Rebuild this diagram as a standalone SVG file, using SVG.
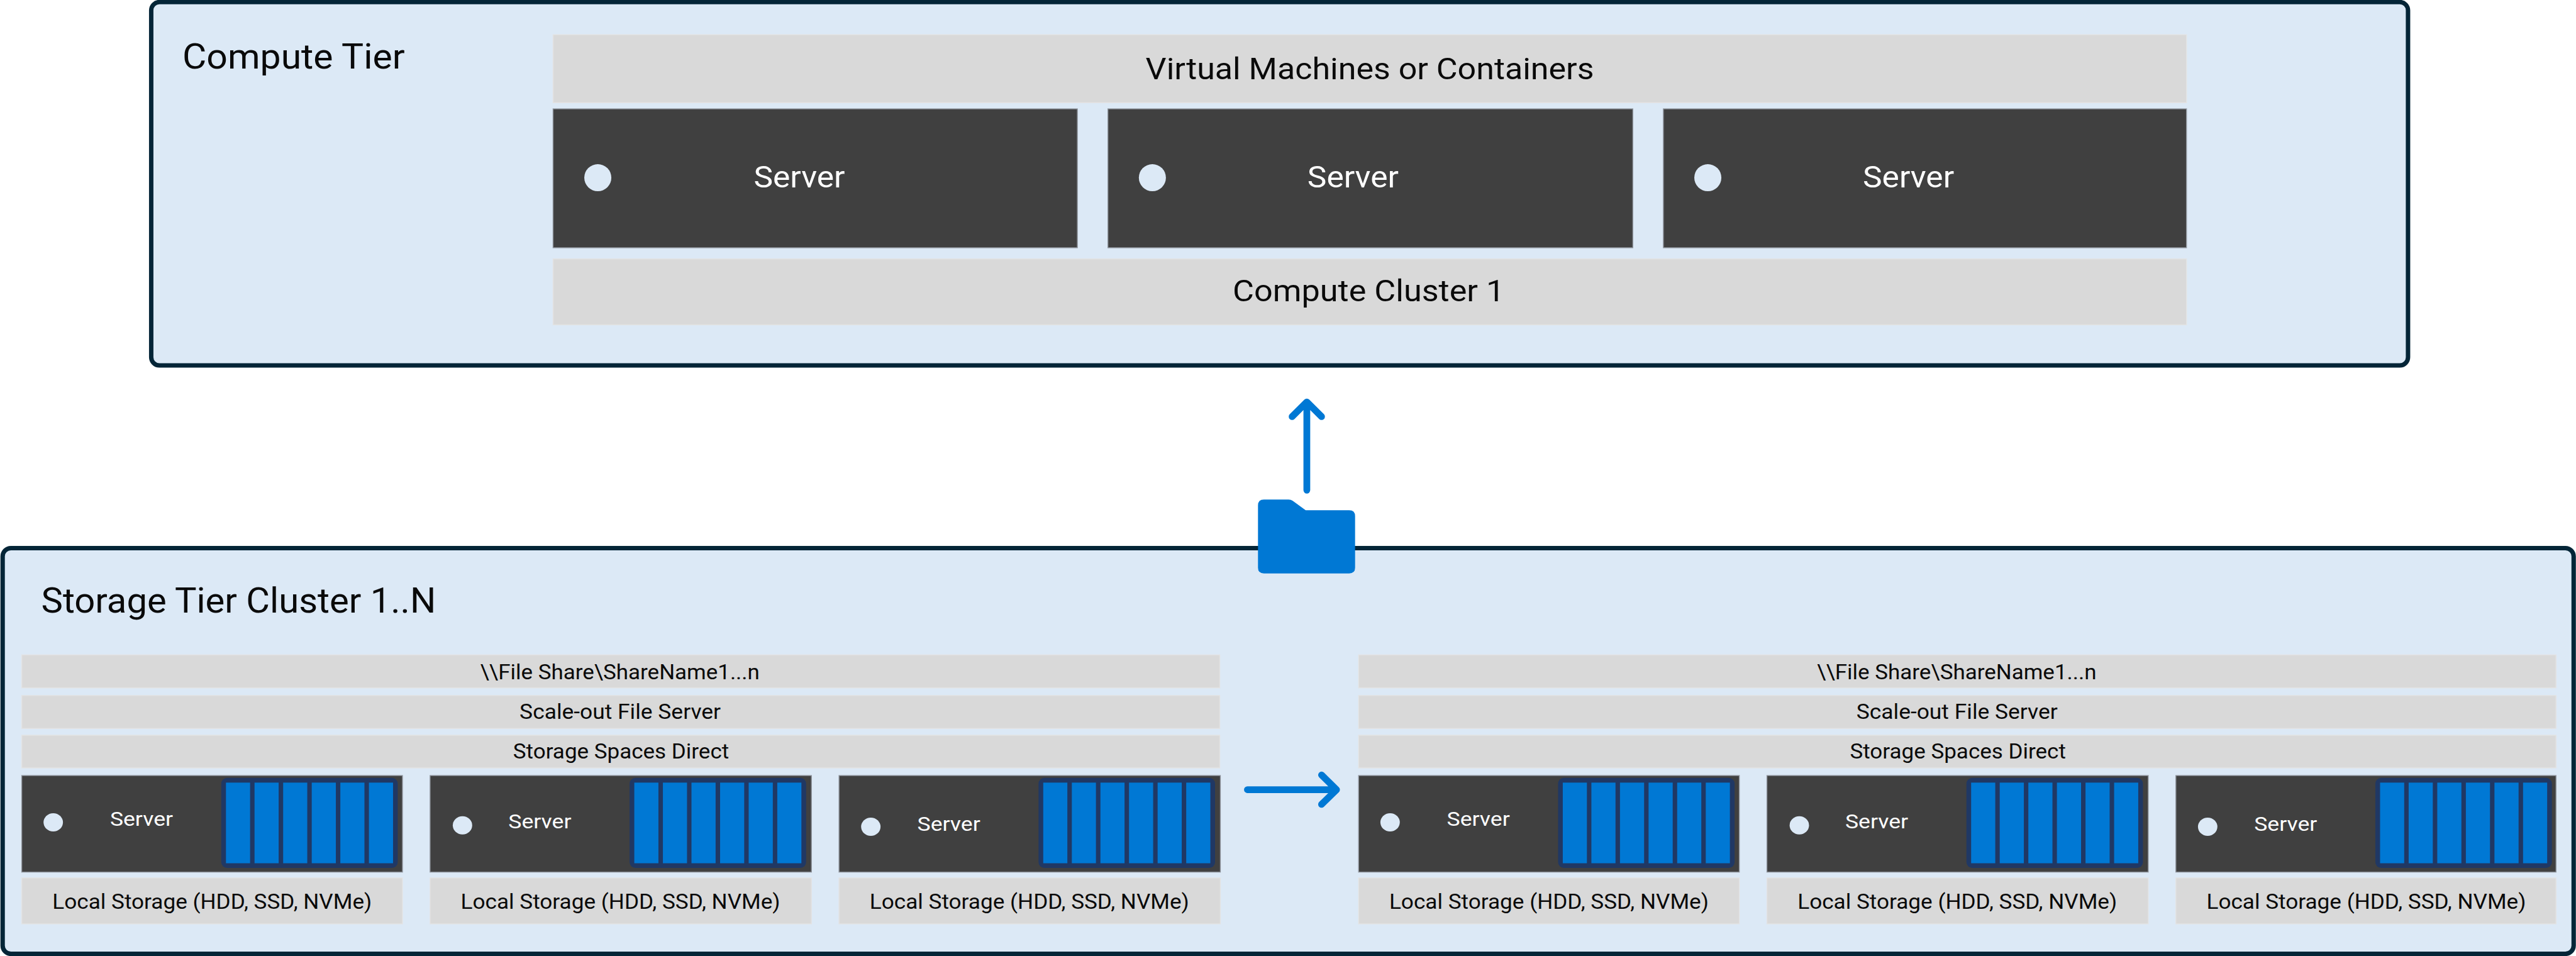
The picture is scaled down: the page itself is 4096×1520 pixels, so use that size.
<svg xmlns="http://www.w3.org/2000/svg" xmlns:xlink="http://www.w3.org/1999/xlink" width="4096" height="1520" viewBox="0 0 4096 1520">
<style>
text{font-family:Roboto,"Noto Sans",sans-serif;fill:#0a0a0a}
.tier{fill:#dce9f6;stroke:#042537;stroke-width:7.5}
.bar{fill:#d9d9d9;stroke:#e3e3e3;stroke-width:1.5}
.srv{fill:#404040;stroke:#8d929a;stroke-width:1.5}
.dot{fill:#dce9f6}
.pack{fill:#0078d4}
.packbg{fill:#203864}
.w{fill:#fff}
.t1{font-size:59px}.t2{font-size:52px}.t3{font-size:36px}.t4{font-size:34px}
.arrow{fill:none;stroke:#0078d4;stroke-width:11.5;stroke-linecap:round;stroke-linejoin:round}
.folder{fill:#0078d4}
</style>
<defs>
<g id="drives">
<rect class="packbg" x="-8" y="-8" width="300" height="153" rx="10"/>
<rect class="pack" x="0" y="0" width="41" height="137"/>
<rect class="pack" x="48.6" y="0" width="41" height="137"/>
<rect class="pack" x="97.2" y="0" width="41" height="137"/>
<rect class="pack" x="145.8" y="0" width="41" height="137"/>
<rect class="pack" x="194.4" y="0" width="41" height="137"/>
<rect class="pack" x="243" y="0" width="41" height="137"/>
</g>
</defs>
<g transform="scale(0.93559)">
<g id="compute-tier">
<rect class="tier" x="257" y="3.5" width="3835.5" height="617.5" rx="14"/>
<text class="t1" x="310" y="116" textLength="378" lengthAdjust="spacingAndGlyphs">Compute Tier</text>
</g>
<g id="vm-bar"><rect class="bar" x="940" y="59" width="2776" height="115.500"/><text class="t2" x="1947" y="135" textLength="762" lengthAdjust="spacingAndGlyphs">Virtual Machines or Containers</text></g>
<g id="compute-server-1"><rect class="srv" x="940" y="185" width="891" height="236"/><ellipse class="dot" cx="1016" cy="302" rx="23" ry="23"/><text class="t2 w" x="1281" y="318" textLength="155" lengthAdjust="spacingAndGlyphs">Server</text></g>
<g id="compute-server-2"><rect class="srv" x="1883" y="185" width="892" height="236"/><ellipse class="dot" cx="1958.500" cy="302" rx="23" ry="23"/><text class="t2 w" x="2222" y="318" textLength="155" lengthAdjust="spacingAndGlyphs">Server</text></g>
<g id="compute-server-3"><rect class="srv" x="2827" y="185" width="889" height="236"/><ellipse class="dot" cx="2902.500" cy="302" rx="23" ry="23"/><text class="t2 w" x="3166" y="318" textLength="155" lengthAdjust="spacingAndGlyphs">Server</text></g>
<g id="compute-cluster-bar"><rect class="bar" x="940" y="440" width="2776" height="112"/><text class="t2" x="2095" y="512" textLength="462" lengthAdjust="spacingAndGlyphs">Compute Cluster 1</text></g>

<g id="storage-tier">
<rect class="tier" x="4.500" y="931.500" width="4369.500" height="689.500" rx="14"/>
<text class="t1" x="70" y="1041" textLength="671" lengthAdjust="spacingAndGlyphs">Storage Tier Cluster 1..N</text>
</g>

<g id="share-bar-a"><rect class="bar" x="37" y="1113" width="2036" height="56"/><text class="t3" x="816" y="1154" textLength="475" lengthAdjust="spacingAndGlyphs">\\File Share\ShareName1...n</text></g>
<g id="sofs-bar-a"><rect class="bar" x="37" y="1182" width="2036" height="56"/><text class="t3" x="883" y="1222" textLength="342" lengthAdjust="spacingAndGlyphs">Scale-out File Server</text></g>
<g id="s2d-bar-a"><rect class="bar" x="37" y="1249.500" width="2036" height="55.500"/><text class="t3" x="872" y="1289" textLength="367" lengthAdjust="spacingAndGlyphs">Storage Spaces Direct</text></g>
<g id="server-a1"><rect class="srv" x="37" y="1318" width="647" height="164"/><ellipse class="dot" cx="90.500" cy="1397.500" rx="16.500" ry="15.500"/><text class="t4 w" x="187" y="1403" textLength="107" lengthAdjust="spacingAndGlyphs">Server</text><use xlink:href="#drives" href="#drives" x="384" y="1330"/></g>
<g id="server-a2"><rect class="srv" x="731" y="1318" width="648" height="164"/><ellipse class="dot" cx="786" cy="1402.500" rx="16.500" ry="15.500"/><text class="t4 w" x="864" y="1408" textLength="107" lengthAdjust="spacingAndGlyphs">Server</text><use xlink:href="#drives" href="#drives" x="1078" y="1330"/></g>
<g id="server-a3"><rect class="srv" x="1426" y="1318" width="648" height="164"/><ellipse class="dot" cx="1480" cy="1405" rx="16.500" ry="15.500"/><text class="t4 w" x="1559" y="1412" textLength="107" lengthAdjust="spacingAndGlyphs">Server</text><use xlink:href="#drives" href="#drives" x="1773" y="1330"/></g>
<g id="local-a1"><rect class="bar" x="37" y="1492" width="647" height="78"/><text class="t3" x="89" y="1544" textLength="543" lengthAdjust="spacingAndGlyphs">Local Storage (HDD, SSD, NVMe)</text></g>
<g id="local-a2"><rect class="bar" x="731" y="1492" width="648" height="78"/><text class="t3" x="783" y="1544" textLength="543" lengthAdjust="spacingAndGlyphs">Local Storage (HDD, SSD, NVMe)</text></g>
<g id="local-a3"><rect class="bar" x="1426" y="1492" width="648" height="78"/><text class="t3" x="1478" y="1544" textLength="543" lengthAdjust="spacingAndGlyphs">Local Storage (HDD, SSD, NVMe)</text></g>

<g id="share-bar-b"><rect class="bar" x="2309" y="1113" width="2035" height="56"/><text class="t3" x="3088" y="1154" textLength="475" lengthAdjust="spacingAndGlyphs">\\File Share\ShareName1...n</text></g>
<g id="sofs-bar-b"><rect class="bar" x="2309" y="1182" width="2035" height="56"/><text class="t3" x="3155" y="1222" textLength="342" lengthAdjust="spacingAndGlyphs">Scale-out File Server</text></g>
<g id="s2d-bar-b"><rect class="bar" x="2309" y="1249.500" width="2035" height="55.500"/><text class="t3" x="3144" y="1289" textLength="367" lengthAdjust="spacingAndGlyphs">Storage Spaces Direct</text></g>
<g id="server-b1"><rect class="srv" x="2309" y="1318" width="647" height="164"/><ellipse class="dot" cx="2362.500" cy="1397.500" rx="16.500" ry="15.500"/><text class="t4 w" x="2459" y="1403" textLength="107" lengthAdjust="spacingAndGlyphs">Server</text><use xlink:href="#drives" href="#drives" x="2656" y="1330"/></g>
<g id="server-b2"><rect class="srv" x="3003" y="1318" width="648" height="164"/><ellipse class="dot" cx="3058" cy="1402.500" rx="16.500" ry="15.500"/><text class="t4 w" x="3136" y="1408" textLength="107" lengthAdjust="spacingAndGlyphs">Server</text><use xlink:href="#drives" href="#drives" x="3350" y="1330"/></g>
<g id="server-b3"><rect class="srv" x="3698" y="1318" width="646" height="164"/><ellipse class="dot" cx="3752" cy="1405" rx="16.500" ry="15.500"/><text class="t4 w" x="3831" y="1412" textLength="107" lengthAdjust="spacingAndGlyphs">Server</text><use xlink:href="#drives" href="#drives" x="4045" y="1330"/></g>
<g id="local-b1"><rect class="bar" x="2309" y="1492" width="647" height="78"/><text class="t3" x="2361" y="1544" textLength="543" lengthAdjust="spacingAndGlyphs">Local Storage (HDD, SSD, NVMe)</text></g>
<g id="local-b2"><rect class="bar" x="3003" y="1492" width="648" height="78"/><text class="t3" x="3055" y="1544" textLength="543" lengthAdjust="spacingAndGlyphs">Local Storage (HDD, SSD, NVMe)</text></g>
<g id="local-b3"><rect class="bar" x="3698" y="1492" width="646" height="78"/><text class="t3" x="3750" y="1544" textLength="543" lengthAdjust="spacingAndGlyphs">Local Storage (HDD, SSD, NVMe)</text></g>

<g id="file-share-icon"><path class="folder" d="M2148 849H2190Q2194 849 2197 851L2219 867H2293Q2303 867 2303 877V965Q2303 974.500 2293 974.500H2148Q2138 974.500 2138 965V859Q2138 849 2148 849Z"/></g>
<g id="connectors">
<path class="arrow" d="M2221 833V684M2196 708L2221 683L2246 708"/>
<path class="arrow" d="M2120 1342H2270M2246 1317L2271.500 1342L2246 1367"/>
</g>
</g>
</svg>
